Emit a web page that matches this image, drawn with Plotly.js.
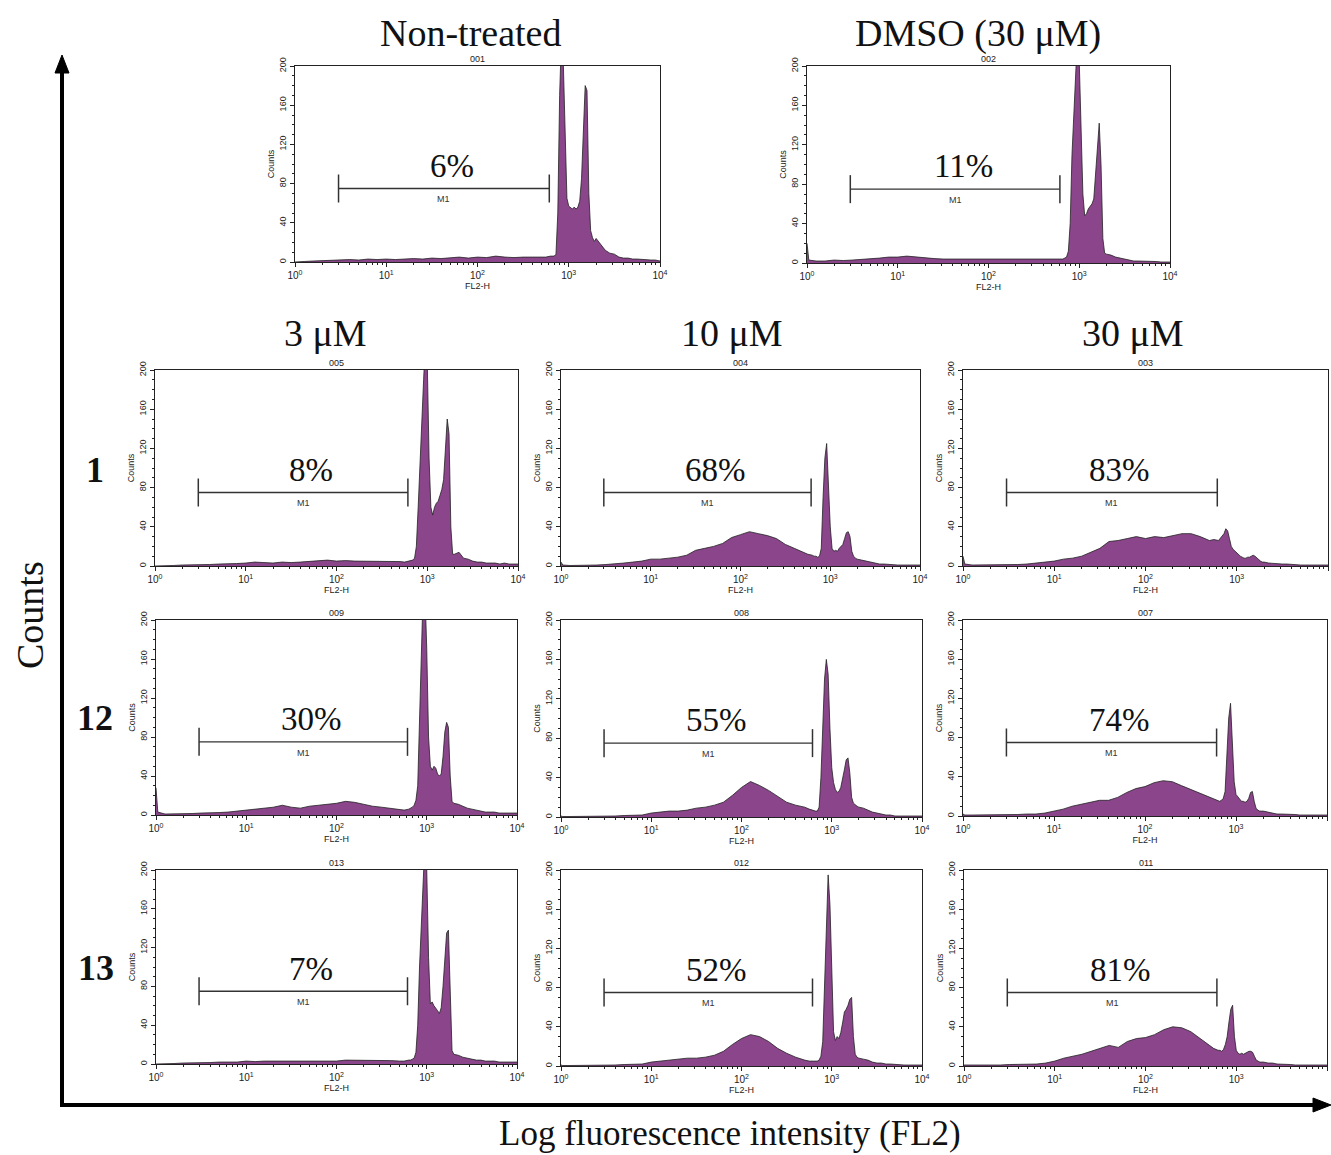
<!DOCTYPE html>
<html><head><meta charset="utf-8">
<script src="https://cdn.plot.ly/plotly-3.0.1.min.js"></script>
<style>html,body{margin:0;padding:0;background:#fff}</style>
</head><body><div id="chart" style="width:1331px;height:1155px"></div>
<script>
// ---------- DATA ----------
// FL2-H channel position in decades (log10 of fluorescence)
const decades = [0,0.02,
  0.1,0.2,0.3,0.4,0.5,0.6,0.7,0.8,0.9,1.0,1.1,1.2,1.3,1.4,1.5,1.6,1.7,1.8,1.9,2.0,2.1,2.2,2.3,2.4,2.5,2.6,2.7,
  2.75,2.8,
  2.82,2.84,2.86,2.88,2.90,2.92,2.94,2.96,2.98,3.00,3.02,3.04,3.06,3.08,3.10,3.12,3.14,3.16,3.18,3.20,3.22,3.24,3.26,3.28,3.30,
  3.35,3.40,3.45,3.50,3.55,3.60,3.65,3.70,3.75,3.80,3.85,3.90,3.95,4.00];

const h001 = [0,0, 0.5,1,1.5,2,2,2.5,2,3,2.5,3,2.5,3,3.5,3,4,3.5,4,5,4,5,4.5,6,5,4.5,5,5,5, 5,6,
  6,6,8,50,170,230,205,120,65,57,55,54,56,54,56,62,85,130,180,175,70,32,25,21,24,
  18,12,9,8,5,4,4,3,3,2.5,2,2,2,1];
const h002 = [20,3, 2,2,3,2.5,3,3.5,4,5,6,6,7,6,5,4.5,4,4,3.5,4,4,4,3.5,4,4,3.5,4,4,3.5, 3.5,4,
  4,5,6,12,40,110,170,215,230,205,130,70,48,50,55,57,60,65,90,125,142,100,25,10,9,
  8,6,5,4,3,2,2,2,2,1.5,1.5,1,1,1];
const h005 = [0,0, 0.5,0.5,1,1,1.5,1.5,2,2,2.5,3,4,3.5,3,4,3.5,4,4.5,5,6,5,5.5,5,5,4.5,5,5,4.5, 4,5,
  5,6,8,20,60,110,145,190,230,210,110,60,52,60,64,66,72,78,88,120,150,135,40,12,12,
  14,8,7,5,4,4,3,3,3,2,3,2,2,2];
const h004 = [4,1, 0.5,0.5,0.5,1,1.5,2,3,4,5,7,7,8,9,11,16,18,20,23,29,32,35,33,31,28,22,18,14, 12,11,
  10,10,9,10,18,70,110,125,85,40,18,15,16,15,18,20,22,28,34,35,30,15,10,8,7,
  6,5,4,3,2,2,1.5,1,1,1,1,1,1,1];
const h003 = [10,2, 1,1,1,1,1.5,1.5,2,3,4,5,7,8,10,14,18,25,26,28,30,28,30,29,31,33,33,30,26, 27,26,
  28,30,33,38,36,28,20,17,15,13,11,10,9,8,8,9,9,10,11,10,8,6,5,4,4,
  3,2.5,2,2,2,1.5,1.5,1,1,1,1,1,1,1];
const h009 = [28,3, 1,1,1.5,1.5,2,2,2.5,3,4,5,6,7,8,10,8,7,9,10,11,12,14,13,11,9,8,7,6, 5,6,
  7,8,10,15,30,100,170,230,230,170,80,50,46,50,48,42,40,42,60,85,95,90,40,14,12,
  11,9,7,6,5,4,3,3,3,2,2,2,2,2];
const h008 = [1,0.5, 0.5,0.5,0.5,1,1,1,1.5,2,2,4,5,6,6,7,9,10,12,15,22,30,36,32,27,21,15,12,10, 8,6,
  6,6,10,40,100,140,160,145,90,50,35,28,25,26,30,38,48,58,60,45,20,14,12,11,10,
  9,7,5,4,3,2,2,1,1,1,1,1,1,1];
const h007 = [2,1, 1,1,1,1.5,1,1.5,2,2,3,5,7,10,12,14,16,16,19,24,28,30,34,36,35,31,27,23,19, 17,15,
  15,16,18,25,60,100,115,80,35,22,20,18,15,15,14,15,18,24,25,15,8,6,5,5,5,
  4,3,2,2,2,1.5,1.5,1,1,1,1,1,1,1];
const h013 = [0,0, 0.5,0.5,1,1,1.5,1.5,2,2,2,3,2.5,3,3,3.5,3,3,3.5,3,3.5,3,4,4,3.5,4,3.5,3.5,3, 3,4,
  4,5,6,12,40,100,160,210,230,200,110,62,64,60,58,55,52,58,80,110,135,138,60,14,10,
  9,7,6,5,4,4,3,3,3,2,2,2,2,2];
const h012 = [1,0.5, 0.5,0.5,0.5,1,1,1,1.5,2,2,4,5,6,7,8,8,9,11,15,22,28,32,30,25,18,13,9,6, 5,5,
  5,5,6,10,25,80,150,195,165,90,35,26,30,28,34,44,55,58,62,68,70,30,12,9,8,
  7,6,4,3,3,2,2,1.5,1,1,1,1,1,1];
const h011 = [1,1, 1,0.5,1,1,1.5,1.5,2,2,3,5,8,10,12,15,18,21,19,25,28,29,32,37,40,39,35,28,21, 18,16,
  16,15,17,22,30,45,58,62,30,16,13,12,13,12,13,14,15,15,14,10,6,5,4,4,4,
  3,3,2,2,1.5,1.5,1,1,1,1,1,1,1,1];

const panelIds  = ['001','002','005','004','003','009','008','007','013','012','011'];
const pctLabels = ['6%','11%','8%','68%','83%','30%','55%','74%','7%','52%','81%'];
const markerName = 'M1';
const m1Range = [3, 612];      // FL2 units
const m1Level = 75;            // counts
const columnTitles = ['Non-treated','DMSO (30 μM)','3 μM','10 μM','30 μM'];
const rowLabels = ['1','12','13'];
const xTickVals = [0,1,2,3,4];
const xTickText = ['10<sup>0</sup>','10<sup>1</sup>','10<sup>2</sup>','10<sup>3</sup>','10<sup>4</sup>'];
const yTickVals = [0,40,80,120,160,200];
const xAxisLabel = 'FL2-H', yAxisLabel = 'Counts';
const bigXLabel = 'Log fluorescence intensity (FL2)', bigYLabel = 'Counts';

// ---------- LAYOUT ----------
const W = 1331, H = 1155;
const allCounts = [h001,h002,h005,h004,h003,h009,h008,h007,h013,h012,h011];
// panel boxes in pixels: [left, right, top, bottom]
const boxes = [
  [295,660,66,262],[807,1170,66,263],
  [155,518,370,566],[561,920,370,566],[963,1328,370,566],
  [156,517,620,815],[561,922,620,817],[963,1327,620,816],
  [156,517,870,1064],[561,922,870,1066],[964,1327,870,1066]
];
const purple = '#8a458b', ink = '#222';
const sans = 'Liberation Sans, Arial, sans-serif';
const serif = 'Liberation Serif, Times New Roman, serif';
const minorX = [];
for (let d = 0; d < 4; d++) for (let k = 2; k <= 9; k++) minorX.push(d + Math.log10(k));

const traces = [];
const layout = {
  width: W, height: H, margin: {l:0,r:0,t:0,b:0}, showlegend: false,
  paper_bgcolor: '#fff', plot_bgcolor: '#fff', annotations: [], shapes: [],
  font: {family: sans, size: 10, color: ink}
};

boxes.forEach((b, i) => {
  const n = i + 1, s = n > 1 ? String(n) : '';
  const xa = 'x' + s, ya = 'y' + s;
  layout['xaxis' + s] = {
    domain: [b[0]/W, b[1]/W], anchor: ya, range: [0,4], fixedrange: true,
    tickmode: 'array', tickvals: xTickVals, ticktext: xTickText,
    ticks: 'outside', ticklen: 4, tickwidth: 1, tickcolor: ink,
    showline: true, mirror: true, linecolor: ink, linewidth: 1,
    showgrid: false, zeroline: false,
    tickfont: {family: sans, size: 10, color: ink},
    title: {text: xAxisLabel, font: {family: sans, size: 9, color: ink}, standoff: 0},
    minor: {tickmode: 'array', tickvals: minorX, ticks: 'outside', ticklen: 2, tickcolor: ink, showgrid: false}
  };
  layout['yaxis' + s] = {
    domain: [1 - b[3]/H, 1 - b[2]/H], anchor: xa, range: [0,200], fixedrange: true,
    tickmode: 'array', tickvals: yTickVals, tickangle: -90,
    ticks: 'outside', ticklen: 4, tickwidth: 1, tickcolor: ink,
    showline: true, mirror: true, linecolor: ink, linewidth: 1,
    showgrid: false, zeroline: false,
    tickfont: {family: sans, size: 9, color: ink},
    title: {text: yAxisLabel, font: {family: sans, size: 9, color: ink}, standoff: 2},
    minor: {dtick: 10, ticks: 'outside', ticklen: 2, tickcolor: ink, showgrid: false}
  };
  traces.push({
    type: 'scatter', mode: 'lines', x: decades, y: allCounts[i], xaxis: xa, yaxis: ya,
    fill: 'tozeroy', fillcolor: purple, line: {color: ink, width: 0.8}, hoverinfo: 'skip'
  });
  traces.push({
    type: 'scatter', mode: 'lines+markers', xaxis: xa, yaxis: ya,
    x: [Math.log10(m1Range[0]), Math.log10(m1Range[1])], y: [m1Level, m1Level],
    line: {color: '#333', width: 1.3},
    marker: {symbol: 'line-ns', size: 20, color: '#333', line: {color: '#333', width: 1.5}},
    cliponaxis: false, hoverinfo: 'skip'
  });
  const mid = (Math.log10(m1Range[0]) + Math.log10(m1Range[1])) / 2;
  layout.annotations.push(
    {xref: 'paper', yref: 'paper', x: (b[0]+b[1])/2/W, y: 1 - (b[2]-7)/H, text: panelIds[i],
     showarrow: false, xanchor: 'center', yanchor: 'middle', font: {family: sans, size: 9, color: ink}},
    {xref: xa, yref: ya, x: 1.72, y: 98, text: pctLabels[i], showarrow: false,
     xanchor: 'center', yanchor: 'middle', font: {family: serif, size: 33, color: '#111'}},
    {xref: xa, yref: ya, x: mid, y: 64, text: markerName, showarrow: false,
     xanchor: 'center', yanchor: 'middle', font: {family: sans, size: 9, color: '#333'}}
  );
});

// big titles
const colPos = [[470,33],[978,33],[325,333],[732,333],[1133,333]];
columnTitles.forEach((t, i) => layout.annotations.push({
  xref:'paper', yref:'paper', x: colPos[i][0]/W, y: 1 - colPos[i][1]/H, text: t, showarrow: false,
  xanchor:'center', yanchor:'middle', font: {family: serif, size: 38, color: '#111'}
}));
const rowPos = [[95,470],[95,718],[96,968]];
rowLabels.forEach((t, i) => layout.annotations.push({
  xref:'paper', yref:'paper', x: rowPos[i][0]/W, y: 1 - rowPos[i][1]/H, text: '<b>' + t + '</b>', showarrow: false,
  xanchor:'center', yanchor:'middle', font: {family: serif, size: 36, color: '#111'}
}));
layout.annotations.push(
  {xref:'paper', yref:'paper', x: 30/W, y: 1 - 615/H, text: bigYLabel, textangle: -90, showarrow: false,
   xanchor:'center', yanchor:'middle', font: {family: serif, size: 38, color: '#111'}},
  {xref:'paper', yref:'paper', x: 730/W, y: 1 - 1133/H, text: bigXLabel, showarrow: false,
   xanchor:'center', yanchor:'middle', font: {family: serif, size: 35, color: '#111'}}
);

// big arrows (axes of the whole figure)
const px = v => v / W, py = v => 1 - v / H;
layout.shapes.push(
  {type:'line', xref:'paper', yref:'paper', x0: px(62), x1: px(62), y0: py(1107), y1: py(68), line:{color:'#000', width:4}},
  {type:'line', xref:'paper', yref:'paper', x0: px(60), x1: px(1318), y0: py(1105), y1: py(1105), line:{color:'#000', width:4}},
  {type:'path', xref:'paper', yref:'paper', fillcolor:'#000', line:{color:'#000', width:1},
   path: `M ${px(62)} ${py(55)} L ${px(55)} ${py(73)} L ${px(69)} ${py(73)} Z`},
  {type:'path', xref:'paper', yref:'paper', fillcolor:'#000', line:{color:'#000', width:1},
   path: `M ${px(1331)} ${py(1105)} L ${px(1313)} ${py(1098)} L ${px(1313)} ${py(1112)} Z`}
);

Plotly.newPlot('chart', traces, layout, {staticPlot: true, displayModeBar: false});
</script>
</body></html>
